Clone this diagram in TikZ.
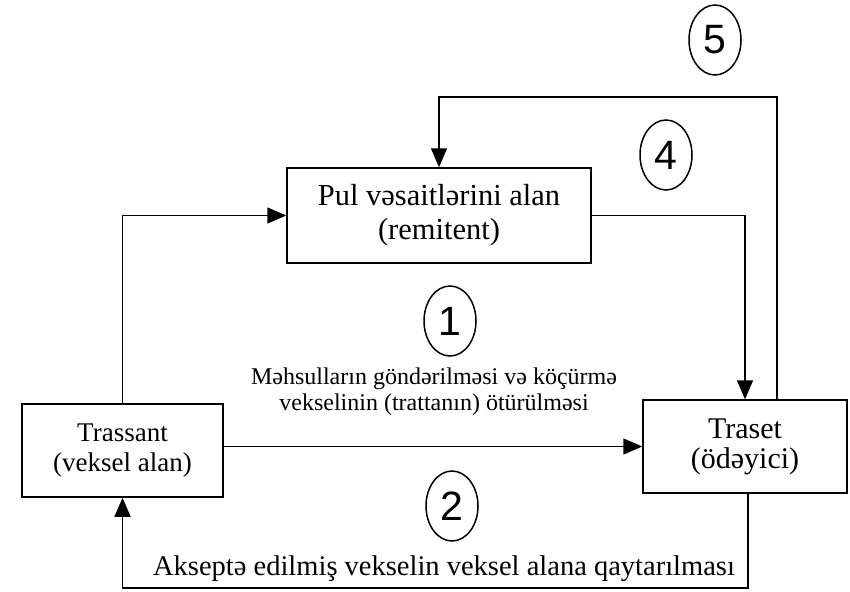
\documentclass[tikz,border=0pt]{standalone}
\usepackage{fontspec}
\setmainfont{Liberation Serif}
\newfontfamily\digitfont{Liberation Sans}
\usetikzlibrary{arrows.meta,shapes.geometric}
\tikzset{
  x=1pt,y=-1pt,
  boxnode/.style={draw,line width=1.5pt,rectangle,inner sep=0pt,align=center},
  numcirc/.style={draw,line width=1.5pt,ellipse,inner sep=0pt,minimum width=52pt,minimum height=70pt,font=\digitfont\fontsize{41}{41}\selectfont},
  arr/.style={line width=1.5pt,-{Triangle[length=19pt,width=16pt]}},
  lbl/.style={align=center,inner sep=0pt}
}
\begin{document}
\begin{tikzpicture}
\useasboundingbox (0,0) rectangle (850,591);
\node[boxnode,minimum width=201pt,minimum height=93pt,font=\fontsize{27}{30}\selectfont] (tra) at (122.5,450.5) {Trassant\\(veksel alan)};
\node[boxnode,minimum width=304pt,minimum height=95pt,font=\fontsize{30.5}{34}\selectfont] (pul) at (439,215.5) {Pul vəsaitlərini alan\\(remitent)};
\node[boxnode,minimum width=204pt,minimum height=93pt,font=\fontsize{30}{30}\selectfont] (trs) at (745,446.5) {Traset\\(ödəyici)};

\node[numcirc] (c5) at (715,40) {5};
\node[numcirc] (c4) at (666,155) {4};
\node[numcirc] (c1) at (450,321) {1};
\node[numcirc] (c2) at (452,506) {2};

\node[lbl,font=\fontsize{24}{26}\selectfont] (l1) at (434,392) {Məhsulların göndərilməsi və köçürmə\\vekselinin (trattanın) ötürülməsi};
\node[lbl,font=\fontsize{28.5}{30}\selectfont] (l2) at (444,569) {Akseptə edilmiş vekselin veksel alana qaytarılması};

\coordinate (fbtop) at (600,97);
\coordinate (botline) at (400,588);

\draw[arr] (tra.north) |- (pul.west);
\draw[arr] (pul.east) -| (trs.north);
\draw[arr] ([xshift=32pt]trs.north) |- (fbtop) -| (pul.north);
\draw[arr] (tra.east |- trs.west) -- (trs.west);
\draw[arr] ([xshift=3pt]trs.south) |- (botline) -| (tra.south);
\end{tikzpicture}
\end{document}
